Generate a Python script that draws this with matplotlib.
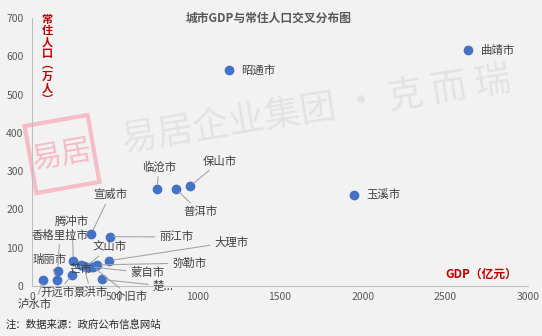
import matplotlib
matplotlib.use("Agg")
import matplotlib.pyplot as plt
from matplotlib.patches import Rectangle

plt.rcParams['font.family'] = ['Noto Sans CJK SC', 'DejaVu Sans']

# --- data: GDP (亿元) vs 常住人口 (万人) ---
cities = ["曲靖市", "昭通市", "临沧市", "普洱市", "保山市", "玉溪市",
          "宣威市", "丽江市", "腾冲市", "大理市", "泸水市", "瑞丽市",
          "香格里拉市", "开远市", "芒市", "景洪市", "文山市", "蒙自市",
          "个旧市", "弥勒市", "楚..."]
gdp = [2637, 1193, 756, 871, 958, 1948,
       359, 470, 250, 466, 68, 149,
       155, 244, 295, 312, 325, 355,
       370, 395, 421]
pop = [616, 564, 253, 253, 261, 238,
       137, 129, 66, 66, 16, 16,
       40, 29, 55, 52, 50, 50,
       50, 55, 17]
xticks = [0, 500, 1000, 1500, 2000, 2500, 3000]
yticks = [0, 100, 200, 300, 400, 500, 600, 700]

# label positions (data coords) and whether a leader line is drawn
label_pos = {
    "曲靖市": (2818, 616, False), "昭通市": (1367, 564, False),
    "玉溪市": (2123, 238, False), "临沧市": (768, 311, True),
    "保山市": (1137, 326, True), "普洱市": (1016, 193, True),
    "宣威市": (472, 238, True), "丽江市": (871, 128, True),
    "腾冲市": (242, 170, True), "大理市": (1204, 115, True),
    "香格里拉市": (169, 133, True), "文山市": (472, 102, True),
    "瑞丽市": (109, 68, True), "芒市": (296, 44, True),
    "弥勒市": (950, 60, True), "蒙自市": (696, 34, True),
    "楚...": (792, 0, True), "开远市": (151, -18, True),
    "景洪市": (357, -18, True), "个旧市": (599, -29, True),
    "泸水市": (18, -47, True),
}

BG = "#F2F2F2"
DOT = "#4472C4"
TXT = "#404040"
RED = "#C00000"
PINK = "#F6BCC8"

fig = plt.figure(figsize=(5.42, 3.36), dpi=100, facecolor=BG)

# watermark text + seal
fig.text(0.583, 0.672, "易居企业集团 · 克 而 瑞", fontsize=26, color="#E3E3E3",
         rotation=9, ha="center", va="center", zorder=0)
fig.add_artist(Rectangle((0.30, 1.48), 0.64, 0.68, angle=10, rotation_point="center",
                         transform=fig.dpi_scale_trans, fill=False, ec=PINK, lw=3,
                         zorder=0))
fig.text(0.114, 0.539, "易居", fontsize=22, color=PINK, rotation=10,
         ha="center", va="center", zorder=0)

ax = fig.add_axes([32 / 542, 50 / 336, 496 / 542, 268 / 336])
ax.set_facecolor("none")
ax.set_xlim(0, 3000)
ax.set_ylim(0, 700)
ax.set_xticks(xticks)
ax.set_yticks(yticks)
ax.tick_params(length=0, labelsize=7.5, colors="#595959")
ax.tick_params(axis="y", pad=6)
ax.tick_params(axis="x", pad=4)
for s in ["top", "right"]:
    ax.spines[s].set_visible(False)
for s in ["left", "bottom"]:
    ax.spines[s].set_color("#BFBFBF")
    ax.spines[s].set_linewidth(0.8)

ax.scatter(gdp, pop, s=36, color=DOT, zorder=3, clip_on=False)

for name, x, y in zip(cities, gdp, pop):
    lx, ly, line = label_pos[name]
    if line:
        ax.annotate(name, xy=(x, y), xytext=(lx, ly), fontsize=8.2, color=TXT,
                    ha="center", va="center", annotation_clip=False, zorder=4,
                    arrowprops=dict(arrowstyle="-", color="#A6A6A6", lw=0.8,
                                    shrinkA=1, shrinkB=3))
    else:
        ax.text(lx, ly, name, fontsize=8.2, color=TXT, ha="center", va="center",
                zorder=4, clip_on=False)

# title, axis labels, footer
fig.text(0.495, 0.945, "城市GDP与常住人口交叉分布图", fontsize=8.5, fontweight="bold",
         color="#595959", ha="center", va="center")
ylab = "常住人口︵万人︶"
for i, ch in enumerate(ylab):
    fig.text(47 / 542, 1 - (19 + i * 11.5) / 336, ch, fontsize=8, fontweight="bold",
             color=RED, ha="center", va="center")
ax.text(0.978, 0.045, "GDP（亿元）", transform=ax.transAxes, fontsize=8.5,
        fontweight="bold", color=RED, ha="right", va="center")
fig.text(6 / 542, 1 - 325 / 336, "注：数据来源：政府公布信息网站", fontsize=7.5,
         color="#262626", ha="left", va="center")

fig.savefig("out.png", dpi=100, facecolor=BG)
